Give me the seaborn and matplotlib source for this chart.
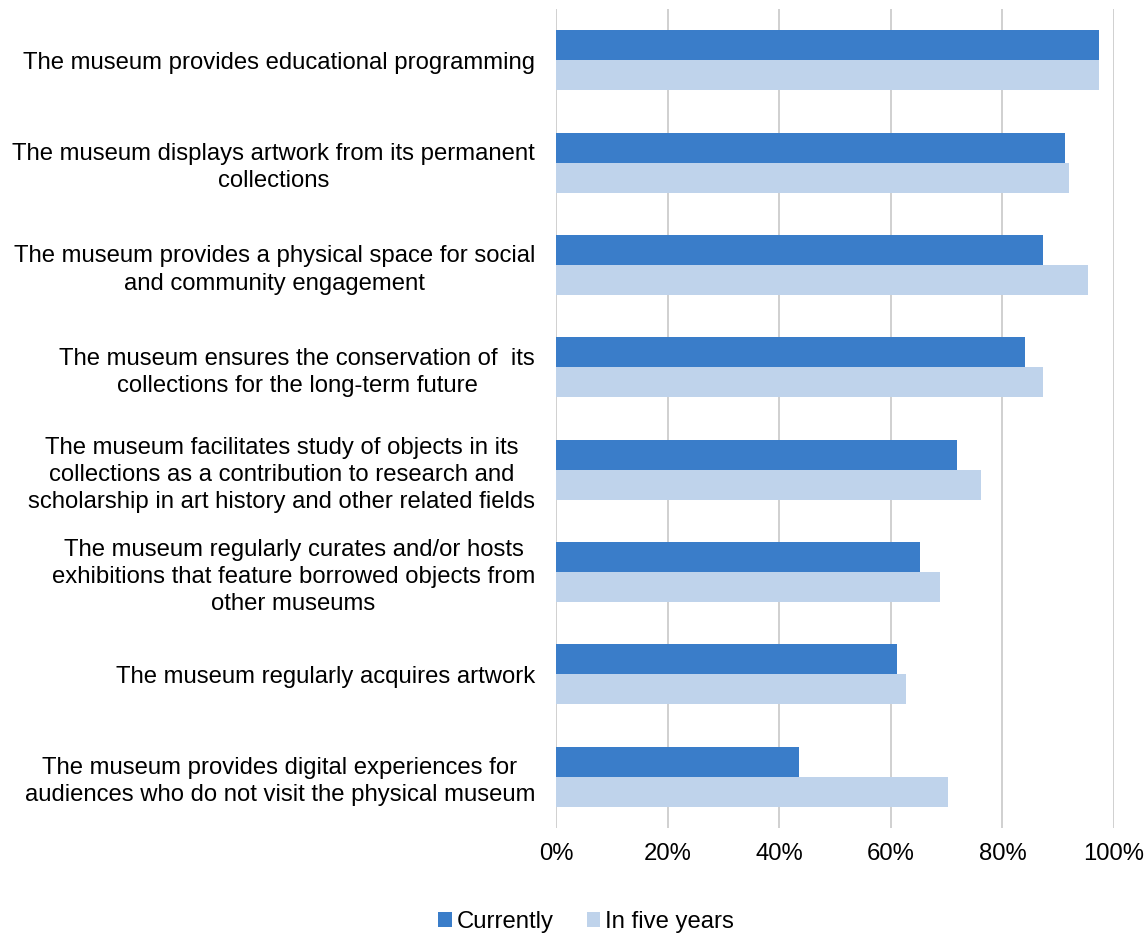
import matplotlib
matplotlib.use("Agg")
import matplotlib.pyplot as plt
import seaborn as sns
import pandas as pd
from matplotlib.ticker import PercentFormatter

categories = [
    "The museum provides educational programming",
    "The museum displays artwork from its permanent\ncollections",
    "The museum provides a physical space for social\nand community engagement",
    "The museum ensures the conservation of  its\ncollections for the long-term future",
    "The museum facilitates study of objects in its\ncollections as a contribution to research and\nscholarship in art history and other related fields",
    "The museum regularly curates and/or hosts\nexhibitions that feature borrowed objects from\nother museums",
    "The museum regularly acquires artwork",
    "The museum provides digital experiences for\naudiences who do not visit the physical museum",
]
currently = [97.4, 91.3, 87.3, 84.0, 71.8, 65.2, 61.1, 43.6]
in_five_years = [97.3, 92.0, 95.3, 87.2, 76.2, 68.9, 62.8, 70.3]
series_names = ["Currently", "In five years"]
colors = ["#3A7DC9", "#BFD3EB"]

df = pd.DataFrame({
    "category": categories * 2,
    "value": currently + in_five_years,
    "series": [series_names[0]] * len(categories) + [series_names[1]] * len(categories),
})

sns.set_style("white")
plt.rcParams["font.family"] = ["Liberation Sans", "DejaVu Sans"]
FS = 17.2

fig = plt.figure(figsize=(11.46, 9.36), dpi=100)
ax = fig.add_axes([556 / 1146, 108 / 936, (1114 - 556) / 1146, (927 - 108) / 936])

sns.barplot(data=df, y="category", x="value", hue="series", order=categories,
            hue_order=series_names, palette=colors, orient="h", width=0.586,
            saturation=1, linewidth=0, ax=ax, legend=True, zorder=2)

ax.set_xlim(0, 100)
ax.set_ylim(len(categories) - 0.5, -0.5)
ax.set_xticks([0, 20, 40, 60, 80, 100])
ax.xaxis.set_major_formatter(PercentFormatter(decimals=0))
ax.grid(axis="x", color="#C8C8C8", linewidth=1.2, zorder=0)
ax.grid(axis="y", visible=False)
for s in ax.spines.values():
    s.set_visible(False)
ax.set_xlabel("")
ax.set_ylabel("")
ax.tick_params(axis="y", length=0, pad=15, labelsize=FS, labelcolor="#000000")
ax.tick_params(axis="x", length=0, pad=11, labelsize=FS, labelcolor="#000000")
for t in ax.get_yticklabels():
    t.set_multialignment("center")
    t.set_linespacing(1.3)

handles, labels = ax.get_legend_handles_labels()
ax.get_legend().remove()
fig.legend(handles, labels, loc="center", bbox_to_anchor=(586 / 1146, 14 / 936),
           ncol=2, frameon=False, fontsize=FS, handlelength=0.55, handleheight=0.55,
           handletextpad=0.2, columnspacing=1.4, labelcolor="#000000")

fig.savefig("out.png", dpi=100, facecolor="white")
